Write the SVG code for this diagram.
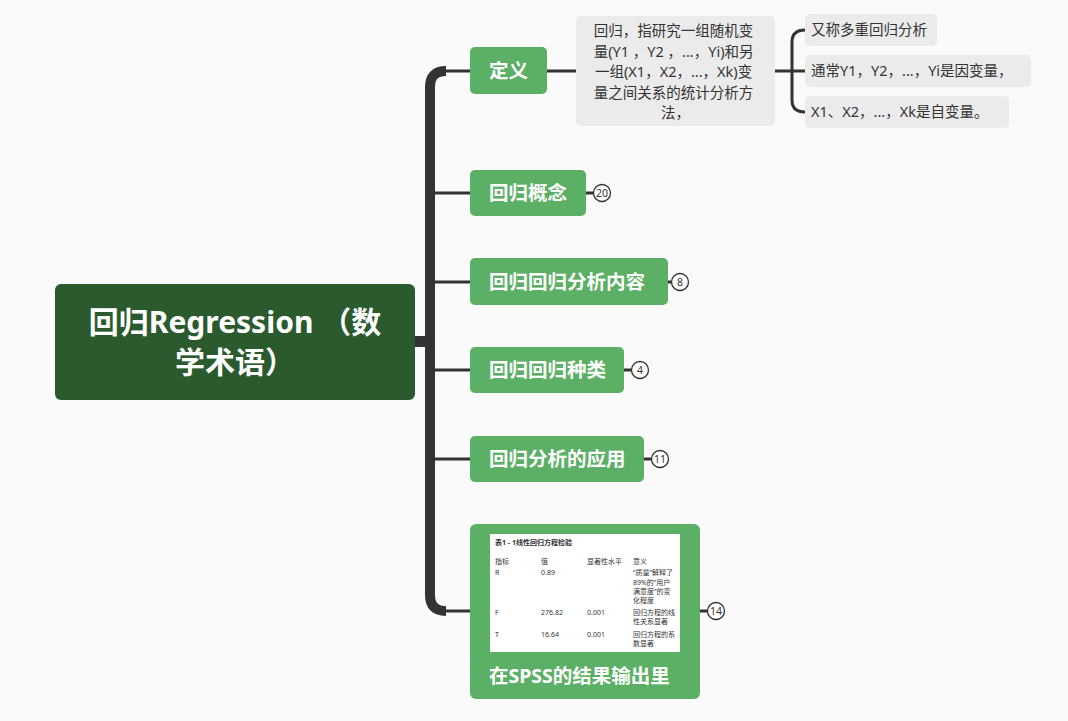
<svg xmlns="http://www.w3.org/2000/svg" width="1068" height="721" viewBox="0 0 1068 721">
<style>
.bg{fill:#fafafa}
.root{fill:#2b5a2f}
.main{fill:#5cb066}
.sub{fill:#ebebeb}
.t{font-family:"Noto Sans","Noto Sans CJK SC",sans-serif}
.rt{font-size:30px;font-weight:bold;fill:#fff}
.mt{font-size:19.5px;font-weight:bold;fill:#fff}
.st{font-size:14.5px;fill:#333}
.ln{fill:none;stroke:#333;stroke-width:3}
.badge circle{fill:#fff;stroke:#333;stroke-width:1.3}
.badge text{font-family:"Noto Sans",sans-serif;font-size:10.5px;fill:#333;text-anchor:middle}
.tb{font-family:"Noto Sans","Noto Sans CJK SC",sans-serif;font-size:7px;fill:#333}
</style>
<rect class="bg" x="0" y="0" width="1068" height="721"/>
<g id="connectors">
  <rect x="414" y="336" width="16" height="11" fill="#333"/>
  <path d="M 446 71 Q 430 71 430 87 L 430 595 Q 430 611 446 611" fill="none" stroke="#333" stroke-width="10"/>
  <path class="ln" d="M 440 71 L 470 71"/>
  <path class="ln" d="M 440 611 L 470 611"/>
  <path class="ln" d="M 430 193 L 470 193"/>
  <path class="ln" d="M 430 282 L 470 282"/>
  <path class="ln" d="M 430 370 L 470 370"/>
  <path class="ln" d="M 430 459 L 470 459"/>
  <path class="ln" d="M 547 71 L 576 71"/>
  <path class="ln" d="M 775 71 L 805 71"/>
  <path class="ln" d="M 805 30 Q 792 30 792 42 L 792 100 Q 792 112 805 112"/>
  <path class="ln" d="M 586 193 L 594 193"/>
  <path class="ln" d="M 668 282 L 672 282"/>
  <path class="ln" d="M 624 370 L 632 370"/>
  <path class="ln" d="M 644 459 L 652 459"/>
  <path class="ln" d="M 700 611 L 708 611"/>
</g>
<g id="root">
  <rect class="root" x="55" y="284" width="360" height="116" rx="6"/>
  <text class="t rt" x="235" y="333" text-anchor="middle">回归Regression （数</text>
  <text class="t rt" x="235" y="373" text-anchor="middle">学术语）</text>
</g>
<g id="n-def">
  <rect class="main" x="470" y="47" width="77" height="47" rx="5"/>
  <text class="t mt" x="489" y="78">定义</text>
</g>
<g id="n-def-text">
  <rect class="sub" x="576" y="16" width="199" height="110" rx="5"/>
  <text class="t st" text-anchor="middle">
    <tspan x="675.5" y="36">回归，指研究一组随机变</tspan>
    <tspan x="675.5" y="56.5">量(Y1 ，Y2 ，...，Yi)和另</tspan>
    <tspan x="675.5" y="77">一组(X1，X2，...，Xk)变</tspan>
    <tspan x="675.5" y="97.5">量之间关系的统计分析方</tspan>
    <tspan x="675.5" y="118">法，</tspan>
  </text>
</g>
<g id="n-c1">
  <rect class="sub" x="805" y="14" width="132" height="32" rx="5"/>
  <text class="t st" x="811" y="35">又称多重回归分析</text>
</g>
<g id="n-c2">
  <rect class="sub" x="805" y="55" width="226" height="32" rx="5"/>
  <text class="t st" x="811" y="76">通常Y1，Y2，...，Yi是因变量，</text>
</g>
<g id="n-c3">
  <rect class="sub" x="805" y="96" width="204" height="32" rx="5"/>
  <text class="t st" x="811" y="117">X1、X2，...，Xk是自变量。</text>
</g>
<g id="n-concept">
  <rect class="main" x="470" y="170" width="116" height="46" rx="5"/>
  <text class="t mt" x="489" y="200">回归概念</text>
  <g class="badge"><circle cx="602" cy="193" r="8.5"/><text x="602" y="196.5">20</text></g>
</g>
<g id="n-content">
  <rect class="main" x="470" y="258" width="198" height="47" rx="5"/>
  <text class="t mt" x="489" y="289">回归回归分析内容</text>
  <g class="badge"><circle cx="680" cy="282" r="8.5"/><text x="680" y="285.5">8</text></g>
</g>
<g id="n-kinds">
  <rect class="main" x="470" y="347" width="154" height="46" rx="5"/>
  <text class="t mt" x="489" y="377">回归回归种类</text>
  <g class="badge"><circle cx="640" cy="370" r="8.5"/><text x="640" y="373.5">4</text></g>
</g>
<g id="n-app">
  <rect class="main" x="470" y="436" width="174" height="46" rx="5"/>
  <text class="t mt" x="489" y="466">回归分析的应用</text>
  <g class="badge"><circle cx="660" cy="459" r="8.5"/><text x="660" y="462.5">11</text></g>
</g>
<g id="n-spss">
  <rect class="main" x="470" y="524" width="230" height="175" rx="6"/>
  <rect x="490" y="534" width="190" height="118" fill="#fff"/>
  <text class="tb" x="495" y="545" font-weight="bold">表1 - 1线性回归方程检验</text>
  <text class="tb" x="495" y="564">指标</text>
  <text class="tb" x="541" y="564">值</text>
  <text class="tb" x="587" y="564">显著性水平</text>
  <text class="tb" x="633" y="564">意义</text>
  <text class="tb" x="495" y="575">R</text>
  <text class="tb" x="541" y="575">0.89</text>
  <text class="tb" x="633" y="575">“质量”解释了</text>
  <text class="tb" x="633" y="585">89%的“用户</text>
  <text class="tb" x="633" y="594">满意度”的变</text>
  <text class="tb" x="633" y="603">化程度</text>
  <text class="tb" x="495" y="615">F</text>
  <text class="tb" x="541" y="615">276.82</text>
  <text class="tb" x="587" y="615">0.001</text>
  <text class="tb" x="633" y="615">回归方程的线</text>
  <text class="tb" x="633" y="624">性关系显著</text>
  <text class="tb" x="495" y="637">T</text>
  <text class="tb" x="541" y="637">16.64</text>
  <text class="tb" x="587" y="637">0.001</text>
  <text class="tb" x="633" y="637">回归方程的系</text>
  <text class="tb" x="633" y="646">数显著</text>
  <text class="t mt" x="489" y="683">在SPSS的结果输出里</text>
  <g class="badge"><circle cx="716" cy="611" r="8.5"/><text x="716" y="614.5">14</text></g>
</g>
</svg>
